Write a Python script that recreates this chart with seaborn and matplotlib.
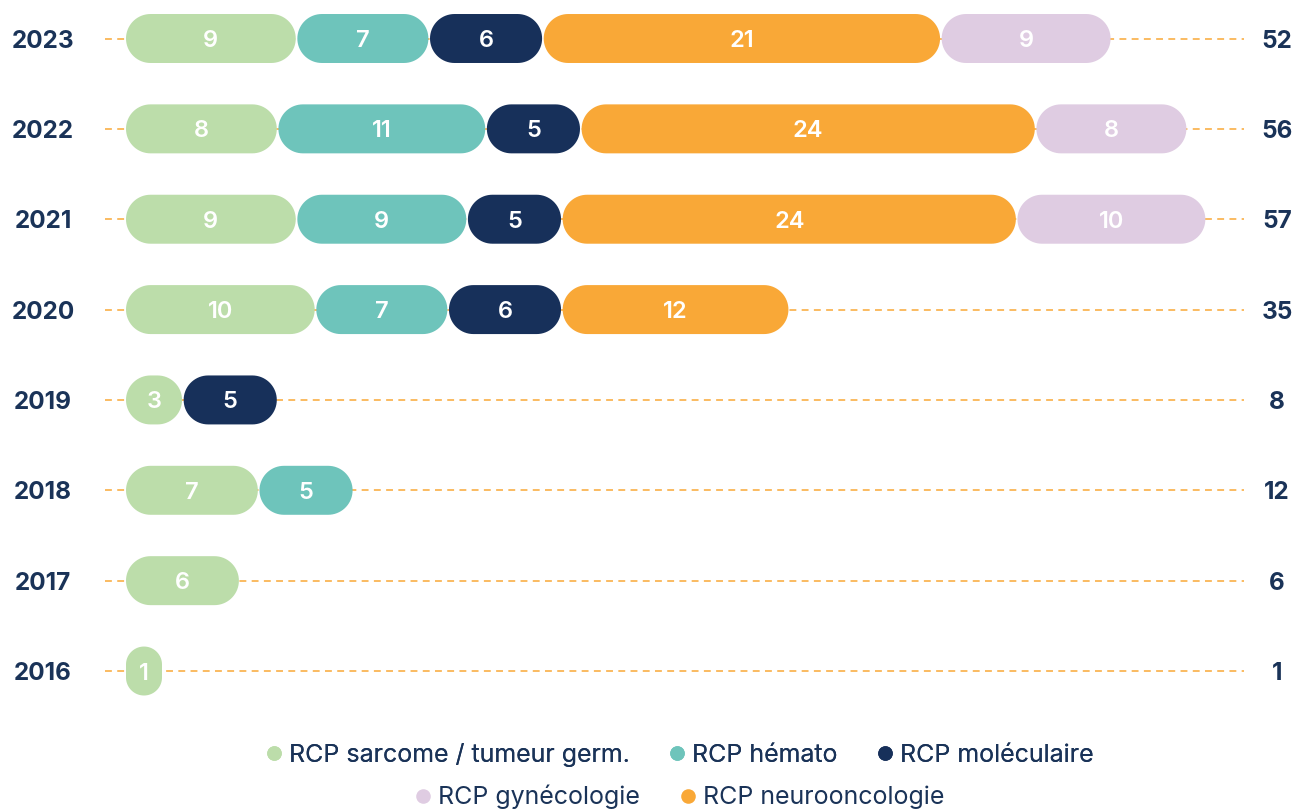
import numpy as np
import pandas as pd
import matplotlib
matplotlib.use("Agg")
import matplotlib.pyplot as plt
import seaborn as sns
from matplotlib.patches import Polygon
from matplotlib.lines import Line2D

# ---------------- data ----------------
years = ["2023", "2022", "2021", "2020", "2019", "2018", "2017", "2016"]
categories = ["RCP sarcome / tumeur germ.", "RCP hémato", "RCP moléculaire",
              "RCP neurooncologie", "RCP gynécologie"]
sarcome = [9, 8, 9, 10, 3, 7, 6, 1]
hemato = [7, 11, 9, 7, 0, 5, 0, 0]
moleculaire = [6, 5, 5, 6, 5, 0, 0, 0]
neuro = [21, 24, 24, 12, 0, 0, 0, 0]
gyneco = [9, 8, 10, 0, 0, 0, 0, 0]
totals = [52, 56, 57, 35, 8, 12, 6, 1]
colors = ["#BCDDAA", "#6EC4BB", "#17305A", "#F9A837", "#DFCCE2"]
legend_row1 = ["RCP sarcome / tumeur germ.", "RCP hémato", "RCP moléculaire"]
legend_row2 = ["RCP gynécologie", "RCP neurooncologie"]

series = [sarcome, hemato, moleculaire, neuro, gyneco]
TXT = "#1A3358"

sns.set_theme(style="white")
plt.rcParams["font.family"] = ["Inter", "DejaVu Sans"]

W, H = 1296, 809
fig = plt.figure(figsize=(W / 100, H / 100), dpi=100)
ax = fig.add_axes([0, 0, 1, 1])

# cumulative sums table
df = pd.DataFrame({"year": years})
cum = np.zeros(len(years))
for k, s in enumerate(series):
    cum = cum + np.array(s)
    df[f"cum{k}"] = cum

bar_h = 0.542
containers = {}
for k in reversed(range(len(series))):
    sns.barplot(data=df, x=f"cum{k}", y="year", orient="h", color=colors[k],
                width=bar_h, ax=ax, order=years, saturation=1)
    containers[k] = ax.containers[-1]

# axis scaling to match pixel layout
sx = 18.95          # px per unit (x)
sy = 90.36          # px per row (y)
x0_px, y0_px = 126, 38.5
ax.set_xlim(-x0_px / sx, (W - x0_px) / sx)
ax.set_ylim((H - y0_px) / sy, -y0_px / sy)
ax.axis("off")

# dashed guide lines
for i, y in enumerate(years):
    ax.plot([-21 / sx, (1244 - x0_px) / sx], [i, i], color="#F9A837",
            lw=1.1, ls=(0, (4.5, 3.5)), zorder=1)


def pill(xl, yc, w, h):
    """Rounded rectangle (radius = half the smaller side, in pixels) in data coords."""
    w_px, h_px = w * sx, h * sy
    r = min(w_px, h_px) / 2
    rx, ry = r / sx, r / sy
    x_l, x_r = xl + rx, xl + w - rx
    y_lo, y_hi = yc - h / 2 + ry, yc + h / 2 - ry
    t = np.linspace(0, np.pi / 2, 18)
    pts = []
    for cx, cy, a0 in [(x_r, y_lo, -np.pi / 2), (x_r, y_hi, 0.0),
                       (x_l, y_hi, np.pi / 2), (x_l, y_lo, np.pi)]:
        ang = a0 + t
        pts.append(np.column_stack([cx + rx * np.cos(ang), cy + ry * np.sin(ang)]))
    return np.vstack(pts)


# replace bars with rounded pills
gap = 1.6 / sx
min_w = 36 / sx
for k in range(len(series)):
    for i, patch in enumerate(containers[k].patches):
        right = patch.get_width()
        left = containers[k - 1].patches[i].get_width() if k > 0 else 0.0
        yc = patch.get_y() + patch.get_height() / 2
        h = patch.get_height()
        patch.set_visible(False)
        val = series[k][i]
        if val <= 0:
            continue
        xl = left + (gap / 2 if k > 0 else 0)
        w = max(right - left - (gap / 2 if k > 0 else 0) - gap / 2, min_w)
        ax.add_patch(Polygon(pill(xl, yc, w, h), closed=True,
                             facecolor=colors[k], edgecolor="none", zorder=3))
        ax.text(xl + w / 2, yc, str(val), color="white", fontsize=17,
                fontweight="semibold", ha="center", va="center_baseline", zorder=4)

# year labels and totals
for i, y in enumerate(years):
    ax.text((43 - x0_px) / sx, i, y, color=TXT, fontsize=17.5, fontweight="bold",
            ha="center", va="center_baseline")
    ax.text((1277 - x0_px) / sx, i, str(totals[i]), color=TXT, fontsize=17.5,
            fontweight="bold", ha="center", va="center_baseline")

# legend
def handles(names):
    return [Line2D([], [], marker="o", ls="none", markersize=10.5,
                   markerfacecolor=colors[categories.index(n)],
                   markeredgecolor="none") for n in names]

leg_kw = dict(loc="center", frameon=False, fontsize=18, handletextpad=0.15,
              columnspacing=1.45, labelcolor=TXT, handlelength=0.9)
leg1 = fig.legend(handles(legend_row1), legend_row1, ncol=3,
                  bbox_to_anchor=(678 / W, 1 - 755 / H), **leg_kw)
fig.add_artist(leg1)
leg2 = fig.legend(handles(legend_row2), legend_row2, ncol=2,
                  bbox_to_anchor=(678 / W, 1 - 797 / H), **leg_kw)

fig.savefig("out.png", dpi=100)
